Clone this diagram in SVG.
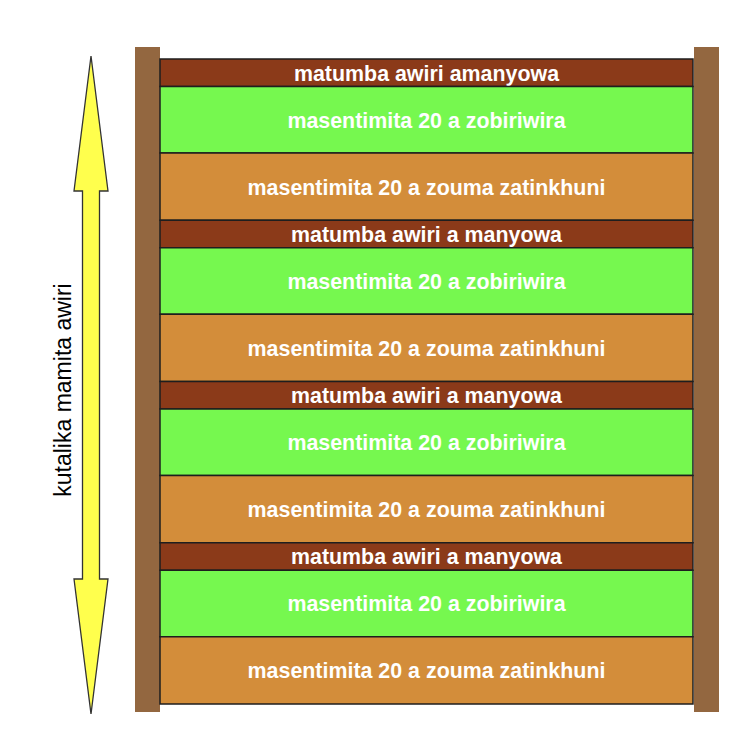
<svg xmlns="http://www.w3.org/2000/svg" width="754" height="734" viewBox="0 0 754 734">
<style>
.post{fill:#936740;}
.lay{stroke:#1e1e1e;stroke-width:1.5;}
.b{fill:#8b3a19;}
.g{fill:#76f84f;}
.o{fill:#d38d3a;}
.t{font-family:"Liberation Sans",Arial,sans-serif;font-weight:bold;font-size:21.4px;fill:#ffffff;text-anchor:middle;}
.lbl{font-family:"Liberation Sans",Arial,sans-serif;font-size:23px;fill:#000000;text-anchor:middle;}
</style>
<rect width="754" height="734" fill="#ffffff"/>
<g id="posts">
<rect class="post" x="135" y="47" width="25" height="665"/>
<rect class="post" x="694" y="47" width="25" height="665"/>
</g>
<g id="layer1">
<rect class="lay b" x="160" y="59" width="533" height="27.5"/>
<text class="t" x="426.5" y="81">matumba awiri amanyowa</text>
<rect class="lay g" x="160" y="86.5" width="533" height="66.5"/>
<text class="t" x="426.5" y="128">masentimita 20 a zobiriwira</text>
<rect class="lay o" x="160" y="153" width="533" height="67.25"/>
<text class="t" x="426.5" y="194.5">masentimita 20 a zouma zatinkhuni</text>
</g>
<g id="layer2">
<rect class="lay b" x="160" y="220.25" width="533" height="27.5"/>
<text class="t" x="426.5" y="242">matumba awiri a manyowa</text>
<rect class="lay g" x="160" y="247.75" width="533" height="66.5"/>
<text class="t" x="426.5" y="289">masentimita 20 a zobiriwira</text>
<rect class="lay o" x="160" y="314.25" width="533" height="67.25"/>
<text class="t" x="426.5" y="356">masentimita 20 a zouma zatinkhuni</text>
</g>
<g id="layer3">
<rect class="lay b" x="160" y="381.5" width="533" height="27.5"/>
<text class="t" x="426.5" y="403">matumba awiri a manyowa</text>
<rect class="lay g" x="160" y="409" width="533" height="66.5"/>
<text class="t" x="426.5" y="450">masentimita 20 a zobiriwira</text>
<rect class="lay o" x="160" y="475.5" width="533" height="67.25"/>
<text class="t" x="426.5" y="517">masentimita 20 a zouma zatinkhuni</text>
</g>
<g id="layer4">
<rect class="lay b" x="160" y="542.75" width="533" height="27.5"/>
<text class="t" x="426.5" y="564">matumba awiri a manyowa</text>
<rect class="lay g" x="160" y="570.25" width="533" height="66.5"/>
<text class="t" x="426.5" y="611">masentimita 20 a zobiriwira</text>
<rect class="lay o" x="160" y="636.75" width="533" height="67.25"/>
<text class="t" x="426.5" y="678">masentimita 20 a zouma zatinkhuni</text>
</g>
<g id="connectors">
<polygon points="91,56 108,191 99.5,191 99.5,579 108,579 91,714 74,579 82.5,579 82.5,191 74,191" fill="#ffff4d" stroke="#333333" stroke-width="1.3" stroke-linejoin="miter"/>
</g>
<g id="label">
<text class="lbl" transform="translate(71,390) rotate(-90)">kutalika mamita awiri</text>
</g>
</svg>
